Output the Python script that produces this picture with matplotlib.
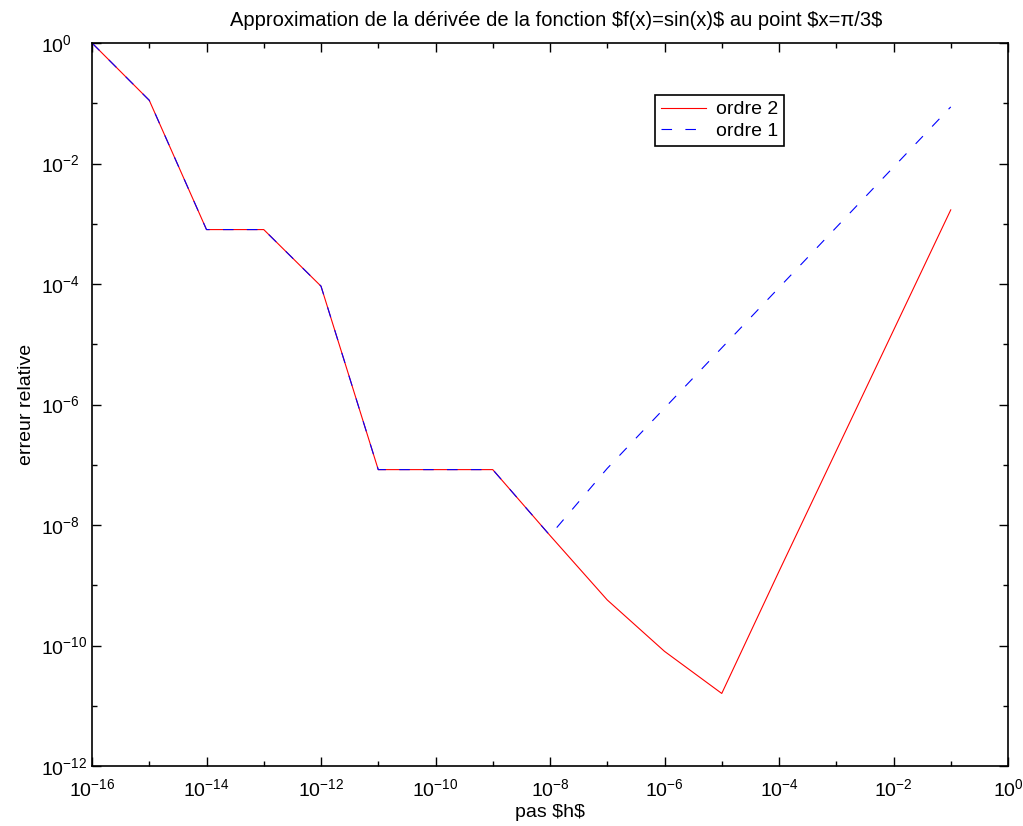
import matplotlib
matplotlib.use("Agg")
import matplotlib.pyplot as plt
from matplotlib.ticker import FixedLocator, NullFormatter, LogFormatterSciNotation

plt.rcParams['font.family'] = ['Liberation Sans', 'DejaVu Sans']
plt.rcParams['mathtext.fontset'] = 'custom'
plt.rcParams['mathtext.rm'] = 'Liberation Sans'
plt.rcParams['mathtext.it'] = 'Liberation Sans:italic'

# Data
h = [1e-16, 1e-15, 1e-14, 1e-13, 1e-12, 1e-11, 1e-10, 1e-9,
     1e-8, 1e-7, 1e-6, 1e-5, 1e-4, 1e-3, 1e-2, 1e-1]
ordre2 = [1.0, 1.12e-1, 8.0e-4, 8.0e-4, 9.2e-5, 8.3e-8, 8.3e-8, 8.3e-8,
          6.7e-9, 5.7e-10, 8.0e-11, 1.6e-11, 1.7e-9, 1.7e-7, 1.7e-5, 1.7e-3]
ordre1 = [1.0, 1.12e-1, 8.0e-4, 8.0e-4, 9.2e-5, 8.3e-8, 8.3e-8, 8.3e-8,
          6.7e-9, 8.7e-8, 8.7e-7, 8.7e-6, 8.7e-5, 8.7e-4, 8.7e-3, 8.7e-2]
labels = ["ordre 2", "ordre 1"]
title = r"Approximation de la dérivée de la fonction \$f(x)=sin(x)\$ au point \$x=π/3\$"
xlabel = r"pas \$h\$"
ylabel = "erreur relative"

fig = plt.figure(figsize=(10.23, 8.26), dpi=100)
ax = fig.add_axes([92/1023, 1-766/826, (1008-92)/1023, (766-43)/826])

ax.plot(h, ordre2, color=(1, 0, 0), lw=0.8, label=labels[0])
ax.plot(h, ordre1, color=(0, 0, 1), lw=0.8, linestyle=(0, (9.5, 12)), label=labels[1])

ax.set_xscale('log')
ax.set_yscale('log')
ax.set_xlim(1e-16, 1e0)
ax.set_ylim(1e-12, 1e0)

ax.xaxis.set_major_locator(FixedLocator([10.0**e for e in range(-16, 1, 2)]))
ax.xaxis.set_minor_locator(FixedLocator([10.0**e for e in range(-15, 0, 2)]))
ax.yaxis.set_major_locator(FixedLocator([10.0**e for e in range(-12, 1, 2)]))
ax.yaxis.set_minor_locator(FixedLocator([10.0**e for e in range(-11, 0, 2)]))
ax.xaxis.set_major_formatter(LogFormatterSciNotation())
ax.yaxis.set_major_formatter(LogFormatterSciNotation())
ax.xaxis.set_minor_formatter(NullFormatter())
ax.yaxis.set_minor_formatter(NullFormatter())

ax.tick_params(which='both', direction='in', top=True, right=True, width=1.0, labelsize=14)
ax.tick_params(which='major', length=6.5)
ax.tick_params(which='minor', length=3.6)
ax.tick_params(axis='x', which='major', pad=8.5)
ax.tick_params(axis='y', which='major', pad=37)
for lbl in ax.get_yticklabels():
    lbl.set_horizontalalignment('left')
for s in ax.spines.values():
    s.set_linewidth(1.2)

ax.set_title(title, fontsize=14.5, pad=12, x=0.5066)
ax.set_xlabel(xlabel, fontsize=14, labelpad=3)
ax.set_ylabel(ylabel, fontsize=14, labelpad=4)

leg = ax.legend(loc='upper left', bbox_to_anchor=(655/1023, 1-95/826),
                bbox_transform=fig.transFigure, fontsize=14, frameon=True,
                fancybox=False, edgecolor='black', framealpha=1,
                borderpad=0.3, borderaxespad=0, labelspacing=0.2,
                handlelength=2.3, handletextpad=0.55)
leg.get_frame().set_linewidth(1.2)

fig.savefig("out.png", dpi=100)
